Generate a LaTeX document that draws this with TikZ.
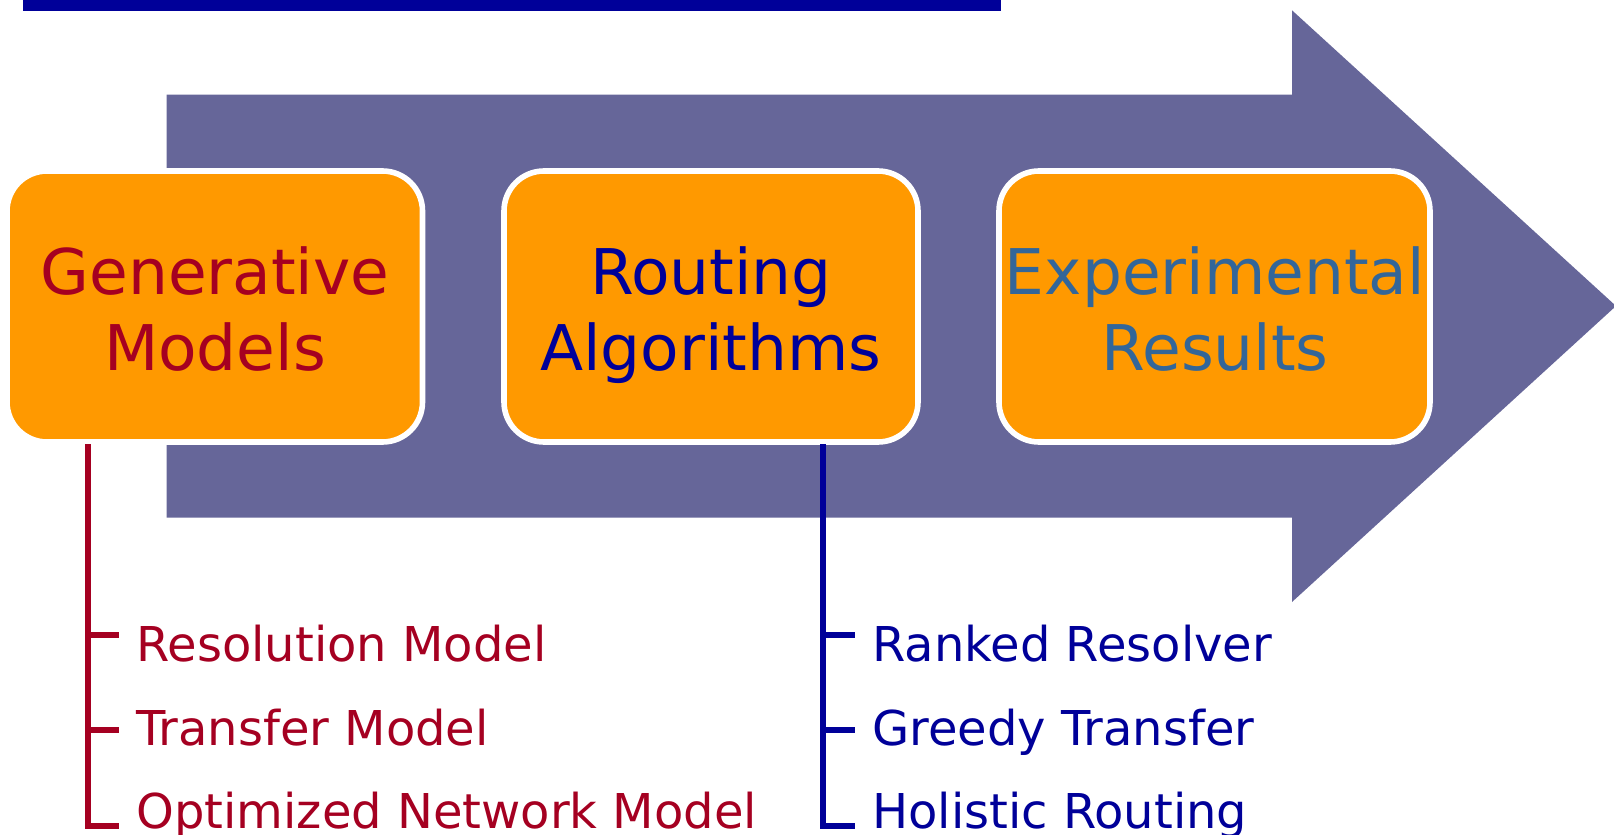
\documentclass[tikz,border=0pt]{standalone}
\usepackage{fontspec}
\setmainfont{DejaVu Sans}
\definecolor{barblue}{RGB}{0,0,153}
\definecolor{arrowcol}{RGB}{102,102,153}
\definecolor{boxorange}{RGB}{255,153,0}
\definecolor{genred}{RGB}{165,0,33}
\definecolor{routblue}{RGB}{0,0,153}
\definecolor{expblue}{RGB}{51,102,153}
\tikzset{
  stagebox/.style={draw=white, line width=2.8pt, fill=boxorange, rounded corners=20pt},
  bigtext/.style={anchor=base, inner sep=0pt, font=\fontsize{31.5pt}{38pt}\selectfont},
  listtext/.style={anchor=base west, inner sep=0pt, font=\fontsize{24pt}{28pt}\selectfont},
  bracket/.style={line width=2.6pt, line join=miter, line cap=butt},
}
\begin{document}
\begin{tikzpicture}[x=0.5pt, y=-0.5pt]
\useasboundingbox (0,0) rectangle (1614,835);
% title bar
\fill[barblue] (22.6,0) rectangle (1000.5,11);
% big arrow
\fill[arrowcol] (166.7,94.7) -- (1292,94.7) -- (1292,10.3) -- (1616,306) -- (1292,602) -- (1292,517.7) -- (166.7,517.7) -- cycle;
% boxes
\draw[stagebox] (7,171) rectangle (422.5,442);
\draw[stagebox] (504,171) rectangle (918,442);
\draw[stagebox] (999,171) rectangle (1430,442);
\coordinate (b1s) at (88,444);
\coordinate (b2s) at (823,444);
% box texts
\node[bigtext, text=genred] (g1) at (215,294) {Generative};
\node[bigtext, text=genred] (g2) at (215,370) {Models};
\node[bigtext, text=routblue] (r1) at (711,294) {Routing};
\node[bigtext, text=routblue] (r2) at (711,370) {Algorithms};
\node[bigtext, text=expblue] (e1) at (1215,294) {Experimental};
\node[bigtext, text=expblue] (e2) at (1215,370) {Results};
% lists
\node[listtext, text=genred] (la) at (136,661) {Resolution Model};
\node[listtext, text=genred] (lb) at (136,745) {Transfer Model};
\node[listtext, text=genred] (lc) at (136,828) {Optimized Network Model};
\node[listtext, text=routblue] (ra) at (872,661) {Ranked Resolver};
\node[listtext, text=routblue] (rb) at (872,745) {Greedy Transfer};
\node[listtext, text=routblue] (rc) at (872,828) {Holistic Routing};
% bracket coordinates
\coordinate (ta) at (119,635);
\coordinate (tb) at (119,730);
\coordinate (tc) at (119,826);
\coordinate (ua) at (855,635);
\coordinate (ub) at (855,730);
\coordinate (uc) at (855,826);
\draw[bracket, genred] (b1s) |- (tc);
\draw[bracket, genred] (ta -| b1s) -- (ta);
\draw[bracket, genred] (tb -| b1s) -- (tb);
\draw[bracket, routblue] (b2s) |- (uc);
\draw[bracket, routblue] (ua -| b2s) -- (ua);
\draw[bracket, routblue] (ub -| b2s) -- (ub);
\end{tikzpicture}
\end{document}
